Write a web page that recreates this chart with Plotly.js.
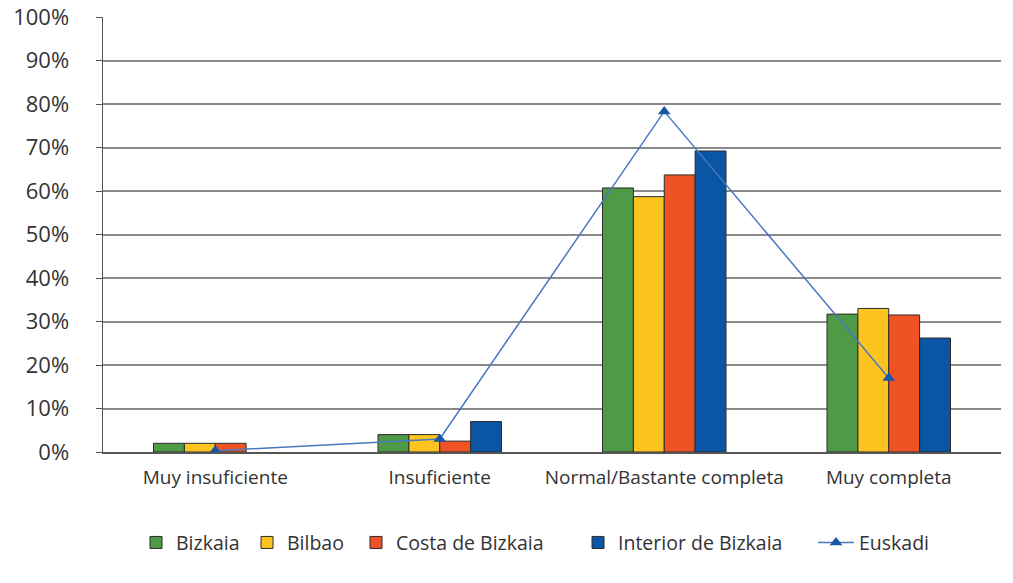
<!DOCTYPE html>
<html><head><meta charset="utf-8">
<script src="https://cdn.plot.ly/plotly-3.0.1.min.js"></script>
<style>html,body{margin:0;padding:0;background:#fff;}#chart{width:1013px;height:583px;}</style>
</head><body><div id="chart"></div>
<script>
const categories = ["Muy insuficiente", "Insuficiente", "Normal/Bastante completa", "Muy completa"];
const bizkaia = [2, 4, 60.7, 31.7];
const bilbao = [2, 4, 58.7, 33];
const costaBizkaia = [2, 2.5, 63.7, 31.5];
const interiorBizkaia = [null, 7, 69.2, 26.2];
const euskadi = [0.3, 3, 78.3, 17];
const yTickVals = [0, 10, 20, 30, 40, 50, 60, 70, 80, 90, 100];
const yTickText = ["0%", "10%", "20%", "30%", "40%", "50%", "60%", "70%", "80%", "90%", "100%"];

const FONT = "'Open Sans', Lato, sans-serif";
const outline = {color: "#2b2b2b", width: 1};
function barTrace(name, vals, color, leg) {
  return {type: "bar", name: name, x: categories, y: vals, legend: leg,
          marker: {color: color, line: outline}};
}
const traces = [
  barTrace("Bizkaia", bizkaia, "#4f9a47", "legend"),
  barTrace("Bilbao", bilbao, "#fdc31f", "legend2"),
  barTrace("Costa de Bizkaia", costaBizkaia, "#ef5325", "legend3"),
  barTrace("Interior de Bizkaia", interiorBizkaia, "#0b55a5", "legend4"),
  {type: "scatter", mode: "lines+markers", name: "Euskadi", x: categories, y: euskadi, legend: "legend5",
   line: {color: "#4a78c0", width: 1.5},
   marker: {symbol: "triangle-up", size: 11, color: "#1557aa"}}
];
function leg(px, iw) {
  return {orientation: "h", xref: "container", x: px / 1013, xanchor: "left",
          yref: "container", y: 0.069, yanchor: "middle", bgcolor: "rgba(0,0,0,0)",
          font: {family: FONT, size: 19.5, color: "#333"}, itemwidth: iw || 30};
}
const layout = {
  width: 1013, height: 583,
  margin: {l: 103, r: 12, t: 17, b: 131, autoexpand: false},
  paper_bgcolor: "#fff", plot_bgcolor: "#fff",
  font: {family: FONT, size: 19, color: "#333"},
  barmode: "group", bargap: 0.45, bargroupgap: 0,
  showlegend: true,
  legend: leg(136), legend2: leg(247), legend3: leg(356), legend4: leg(578), legend5: leg(813, 36),
  xaxis: {type: "category", showgrid: false, showline: true, linecolor: "#555", linewidth: 1.5,
          ticks: "", ticklabelstandoff: 8, tickfont: {family: FONT, size: 19, color: "#333"}, automargin: false},
  yaxis: {range: [0, 100], tickvals: yTickVals, ticktext: yTickText, showgrid: true,
          gridcolor: "#8a8a8a", gridwidth: 2, showline: true, linecolor: "#555", linewidth: 1.5,
          ticks: "outside", ticklen: 6, tickcolor: "#555", ticklabelstandoff: 22,
          tickfont: {family: FONT, size: 22, color: "#333"},
          zeroline: false, automargin: false}
};
Plotly.newPlot("chart", traces, layout, {displayModeBar: false, staticPlot: true});
</script></body></html>
